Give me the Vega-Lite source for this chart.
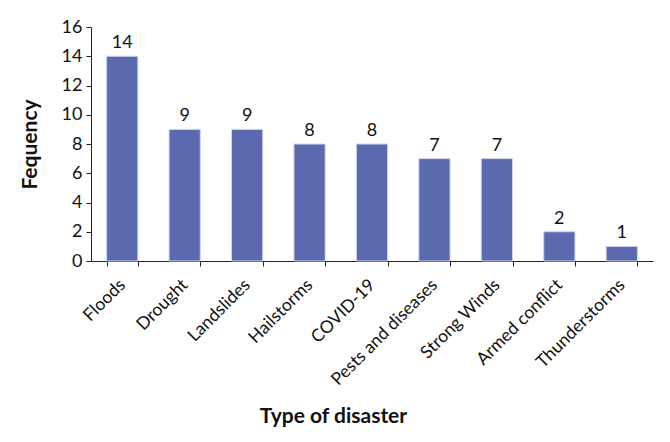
{
  "$schema": "https://vega.github.io/schema/vega-lite/v6.json",
  "width": 562,
  "height": 234,
  "autosize": {"type": "none"},
  "padding": {"left": 91, "top": 27, "right": 17, "bottom": 181},
  "background": "white",
  "config": {
    "view": {"stroke": null},
    "font": "Lato",
    "axis": {"grid": false, "domainColor": "#222", "tickColor": "#222", "labelColor": "#111", "titleColor": "#111", "labelFont": "Lato", "titleFont": "Lato"}
  },
  "data": {
    "values": [
      {"type": "Floods", "freq": 14},
      {"type": "Drought", "freq": 9},
      {"type": "Landslides", "freq": 9},
      {"type": "Hailstorms", "freq": 8},
      {"type": "COVID-19", "freq": 8},
      {"type": "Pests and diseases", "freq": 7},
      {"type": "Strong Winds", "freq": 7},
      {"type": "Armed conflict", "freq": 2},
      {"type": "Thunderstorms", "freq": 1}
    ]
  },
  "encoding": {
    "x": {
      "field": "type", "type": "nominal", "sort": null,
      "scale": {"paddingInner": 0.5, "paddingOuter": 0.25},
      "axis": {
        "title": "Type of disaster",
        "titleFontSize": 21, "titleFontWeight": "bold",
        "titleX": 242, "titleY": 161, "titleAlign": "center", "titleBaseline": "alphabetic",
        "labelAngle": -45, "labelAlign": "right", "labelBaseline": "middle",
        "labelFontSize": 17.5, "labelPadding": 16,
        "tickBand": "extent", "tickSize": 5, "labelFontWeight": "normal"
      }
    },
    "y": {
      "field": "freq", "type": "quantitative",
      "scale": {"domain": [0, 16]},
      "axis": {
        "title": "Fequency", "values": [0, 2, 4, 6, 8, 10, 12, 14, 16],
        "titleFontSize": 21, "titleFontWeight": "bold",
        "titleX": -61, "titleBaseline": "middle",
        "labelFontSize": 18, "tickSize": 5, "labelPadding": 4
      }
    }
  },
  "layer": [
    {"mark": {"type": "bar", "color": "#5B6AAF", "stroke": "#cfd3ea", "strokeWidth": 1}},
    {"mark": {"type": "text", "dy": -13, "fontSize": 18, "font": "Lato", "color": "#111"}, "encoding": {"text": {"field": "freq"}}}
  ]
}
